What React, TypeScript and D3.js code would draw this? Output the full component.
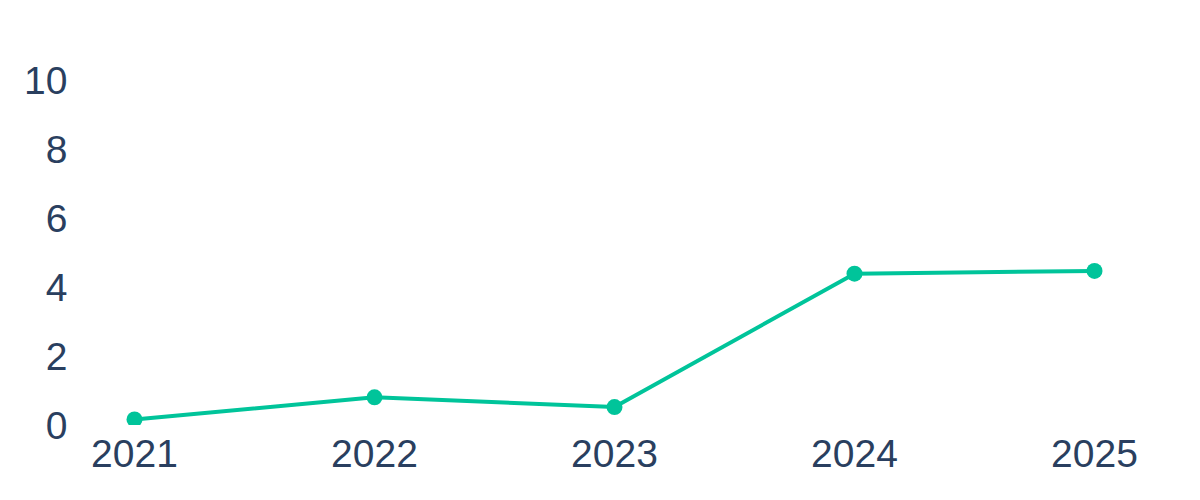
import React from "react";
import * as d3 from "d3";

const years = ["2021", "2022", "2023", "2024", "2025"];
const values = [0.16, 0.8, 0.52, 4.38, 4.46];
const yTicks = [0, 2, 4, 6, 8, 10];

const W = 1200;
const H = 500;
const textColor = "#2a3f5f";
const lineColor = "#00c49a";

export default function App() {
  const x = d3.scalePoint<string>().domain(years).range([134.5, 1094.5]);
  const y = d3.scaleLinear().domain([0, 10]).range([425, 79.5]);
  const line = d3
    .line<number>()
    .x((_, i) => x(years[i]) as number)
    .y((d) => y(d));

  return (
    <svg
      width={W}
      height={H}
      style={{ position: "absolute", left: 0, top: 0, background: "#fff" }}
      fontFamily="'Liberation Sans', Arial, sans-serif"
    >
      <defs>
        <clipPath id="plot">
          <rect x={80} y={0} width={1120} height={425} />
        </clipPath>
      </defs>
      {yTicks.map((t) => (
        <text
          key={t}
          x={67.5}
          y={y(t)}
          dy="0.36em"
          textAnchor="end"
          fontSize={39}
          fill={textColor}
        >
          {t}
        </text>
      ))}
      {years.map((yr) => (
        <text
          key={yr}
          x={x(yr)}
          y={467}
          textAnchor="middle"
          fontSize={39}
          fill={textColor}
        >
          {yr}
        </text>
      ))}
      <g clipPath="url(#plot)">
        <path
          d={line(values) || ""}
          fill="none"
          stroke={lineColor}
          strokeWidth={4}
          strokeLinejoin="round"
        />
        {values.map((v, i) => (
          <circle key={i} cx={x(years[i])} cy={y(v)} r={8} fill={lineColor} />
        ))}
      </g>
    </svg>
  );
}
